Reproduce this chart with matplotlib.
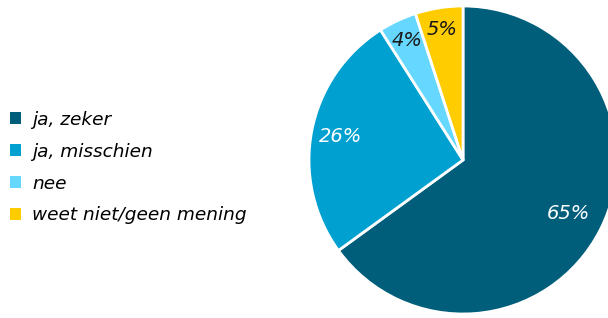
import numpy as np
import matplotlib.pyplot as plt
from matplotlib.patches import Patch

labels = ['ja, zeker', 'ja, misschien', 'nee', 'weet niet/geen mening']
values = [65, 26, 4, 5]
colors = ['#005E7B', '#00A1D1', '#66D8FF', '#FFCC00']
text_colors = ['white', 'white', '#1a1a1a', '#1a1a1a']
label_dist = [0.77, 0.81, 0.86, 0.86]

fig = plt.figure(figsize=(6.08, 3.18), dpi=100)

# pie axes, partly outside the figure on the right like the original
r = 154
cx, cy = 463, 318 - 160
ax = fig.add_axes([(cx - r) / 608, (cy - r) / 318, 2 * r / 608, 2 * r / 318])
wedges, _ = ax.pie(values, colors=colors, startangle=90, counterclock=False,
                   wedgeprops=dict(edgecolor='white', linewidth=2))
ax.set_xlim(-1, 1)
ax.set_ylim(-1, 1)
ax.set_aspect('auto')
ax.axis('off')

# percentage labels
for w, v, c, d in zip(wedges, values, text_colors, label_dist):
    ang = np.deg2rad((w.theta1 + w.theta2) / 2)
    ax.text(d * np.cos(ang), d * np.sin(ang), f'{v}%', color=c,
            ha='center', va='center', fontsize=14, style='italic')

handles = [Patch(facecolor=c, edgecolor='none') for c in colors]
fig.legend(handles, labels, loc='center left', bbox_to_anchor=(10 / 608, 0.473),
           frameon=False, borderaxespad=0, borderpad=0,
           handlelength=0.6, handleheight=0.6, handletextpad=0.6,
           labelspacing=0.75, prop=dict(size=13.3, style='italic'))

fig.savefig('out.png', dpi=100)
